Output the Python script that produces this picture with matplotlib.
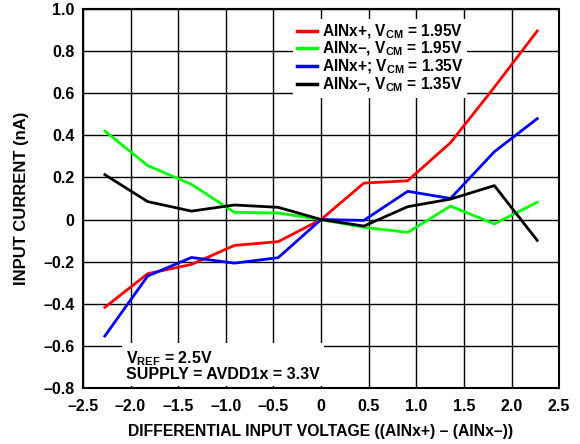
import numpy as np
import matplotlib.pyplot as plt

plt.rcParams['font.family'] = ['Liberation Sans', 'DejaVu Sans']
plt.rcParams['font.weight'] = 'bold'
plt.rcParams['mathtext.fontset'] = 'custom'
plt.rcParams['mathtext.rm'] = 'Liberation Sans:bold'
plt.rcParams['mathtext.bf'] = 'Liberation Sans:bold'

# differential input voltage (V)
vdiff = [-2.27, -1.82, -1.36, -0.91, -0.45, 0.0, 0.45, 0.91, 1.36, 1.82, 2.27]

# input current (nA)
ainp_195 = [-0.417, -0.257, -0.213, -0.123, -0.105, 0.0, 0.173, 0.184, 0.365, 0.628, 0.895]
ainm_195 = [0.420, 0.256, 0.167, 0.034, 0.031, 0.0, -0.037, -0.061, 0.064, -0.021, 0.082]
ainp_135 = [-0.553, -0.268, -0.180, -0.207, -0.181, 0.0, -0.004, 0.134, 0.100, 0.322, 0.479]
ainm_135 = [0.213, 0.085, 0.040, 0.069, 0.058, 0.0, -0.031, 0.061, 0.097, 0.161, -0.099]

labels = [r'AINx+, V$_{\mathrm{CM}}$ = 1.95V',
          r'AINx–, V$_{\mathrm{CM}}$ = 1.95V',
          r'AINx+; V$_{\mathrm{CM}}$ = 1.35V',
          r'AINx–, V$_{\mathrm{CM}}$ = 1.35V']
colors = ['#ff0000', '#00ff00', '#0000ff', '#000000']

xticks = [-2.5, -2.0, -1.5, -1.0, -0.5, 0, 0.5, 1.0, 1.5, 2.0, 2.5]
xticklabels = ['–2.5', '–2.0', '–1.5', '–1.0', '–0.5', '0', '0.5', '1.0', '1.5', '2.0', '2.5']
yticks = [-0.8, -0.6, -0.4, -0.2, 0, 0.2, 0.4, 0.6, 0.8, 1.0]
yticklabels = ['–0.8', '–0.6', '–0.4', '–0.2', '0', '0.2', '0.4', '0.6', '0.8', '1.0']

fig = plt.figure(figsize=(5.8, 4.44), dpi=100)
ax = fig.add_axes([0.143, 0.126, 0.821, 0.854])

for ys, c, lab in zip([ainp_195, ainm_195, ainp_135, ainm_135], colors, labels):
    ax.plot(vdiff, ys, color=c, lw=2.0, label=lab, zorder=3)

ax.set_xlim(-2.5, 2.5)
ax.set_ylim(-0.8, 1.0)
ax.set_xticks(xticks)
ax.set_xticklabels(xticklabels)
ax.set_yticks(yticks)
ax.set_yticklabels(yticklabels)
ax.tick_params(length=0, labelsize=11.5)
ax.tick_params(axis='x', pad=8)
ax.tick_params(axis='y', pad=6)
ax.grid(True, color='black', lw=1.0)
for s in ax.spines.values():
    s.set_linewidth(1.5)

ax.set_xlabel('DIFFERENTIAL INPUT VOLTAGE ((AINx+) – (AINx–))', fontsize=11.3, fontweight='bold', labelpad=7)
ax.set_ylabel('INPUT CURRENT (nA)', fontsize=12, fontweight='bold', labelpad=10)

leg = ax.legend(loc='upper left', bbox_to_anchor=(0.425, 0.995), fontsize=11.2,
                handlelength=1.3, handletextpad=0.3, labelspacing=-0.05,
                borderpad=0.25, fancybox=False, framealpha=1.0)
leg.get_frame().set_edgecolor('white')
leg.get_frame().set_linewidth(0)
for h in leg.get_lines():
    h.set_linewidth(2.5)

ax.text(-2.05, -0.615, 'V$_{\\mathrm{REF}}$ = 2.5V\nSUPPLY = AVDD1x = 3.3V', fontsize=11.5,
        fontweight='bold', va='top', ha='left', linespacing=0.95, zorder=4,
        bbox=dict(facecolor='white', edgecolor='none', pad=3))

fig.savefig('out.png', dpi=100)
